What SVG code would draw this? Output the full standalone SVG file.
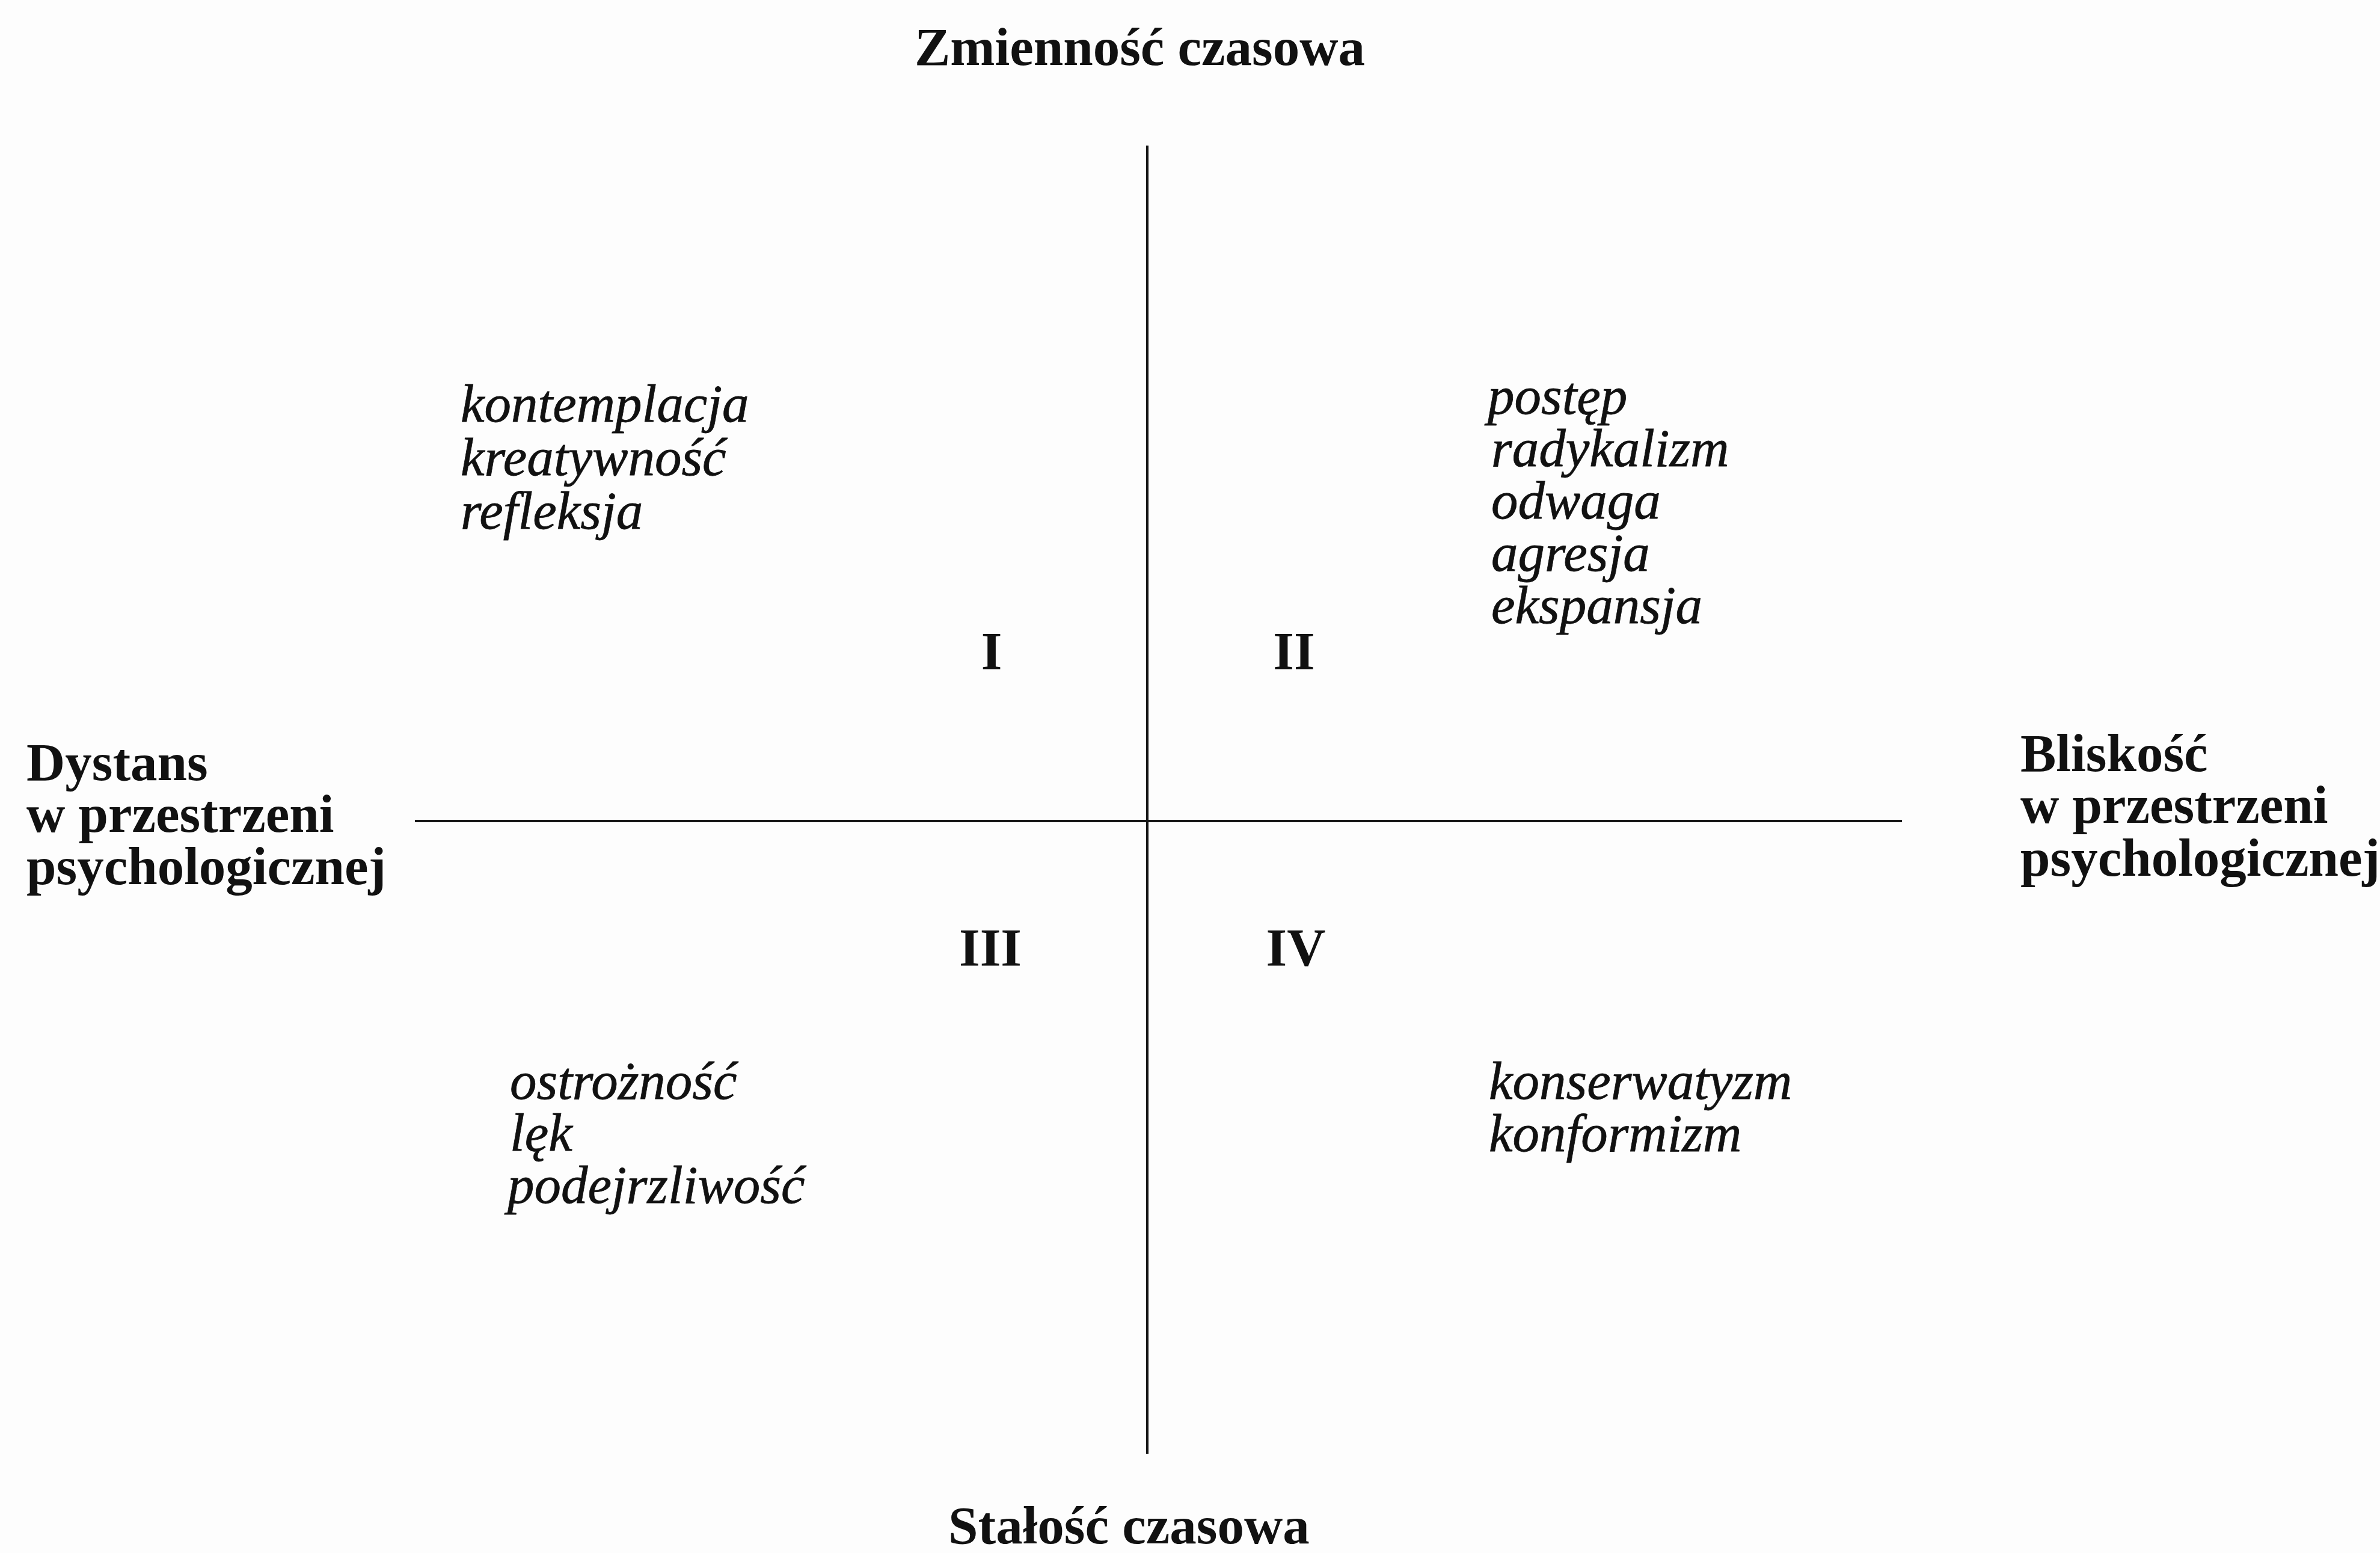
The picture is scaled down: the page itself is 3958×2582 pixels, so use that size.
<svg xmlns="http://www.w3.org/2000/svg" width="3958" height="2582" viewBox="0 0 3958 2582">
<style>
.axis{stroke:#151515;stroke-width:4;fill:none}
.b{font-family:"Liberation Serif","Times New Roman",serif;font-weight:bold;font-size:89px;fill:#111}
.i{font-family:"Liberation Serif","Times New Roman",serif;font-style:italic;font-size:89px;fill:#111;stroke:#111;stroke-width:0.8}
</style>
<rect width="3958" height="2582" fill="#fdfdfd"/>
<g id="connectors">
<line class="axis" x1="1908" y1="242" x2="1908" y2="2417"/>
<line class="axis" x1="690" y1="1365" x2="3163" y2="1365"/>
</g>
<g id="axis-top"><text class="b" x="1521" y="108">Zmienność czasowa</text></g>
<g id="axis-bottom"><text class="b" x="1577" y="2566">Stałość czasowa</text></g>
<g id="axis-left">
<text class="b" x="44" y="1297">Dystans</text>
<text class="b" x="44" y="1383">w przestrzeni</text>
<text class="b" x="44" y="1470">psychologicznej</text>
</g>
<g id="axis-right">
<text class="b" x="3360" y="1282">Bliskość</text>
<text class="b" x="3360" y="1368">w przestrzeni</text>
<text class="b" x="3360" y="1456">psychologicznej</text>
</g>
<g id="quadrant-I">
<text class="b" x="1649" y="1112" text-anchor="middle">I</text>
<text class="i" x="766" y="701">kontemplacja</text>
<text class="i" x="766" y="790">kreatywność</text>
<text class="i" x="766" y="879">refleksja</text>
</g>
<g id="quadrant-II">
<text class="b" x="2152" y="1112" text-anchor="middle">II</text>
<text class="i" x="2474" y="688">postęp</text>
<text class="i" x="2480" y="775">radykalizm</text>
<text class="i" x="2480" y="862">odwaga</text>
<text class="i" x="2480" y="949">agresja</text>
<text class="i" x="2480" y="1036">ekspansja</text>
</g>
<g id="quadrant-III">
<text class="b" x="1647" y="1605" text-anchor="middle">III</text>
<text class="i" x="848" y="1827">ostrożność</text>
<text class="i" x="848" y="1913">lęk</text>
<text class="i" x="844" y="2000">podejrzliwość</text>
</g>
<g id="quadrant-IV">
<text class="b" x="2155" y="1605" text-anchor="middle">IV</text>
<text class="i" x="2476" y="1827">konserwatyzm</text>
<text class="i" x="2476" y="1914">konformizm</text>
</g>
</svg>
